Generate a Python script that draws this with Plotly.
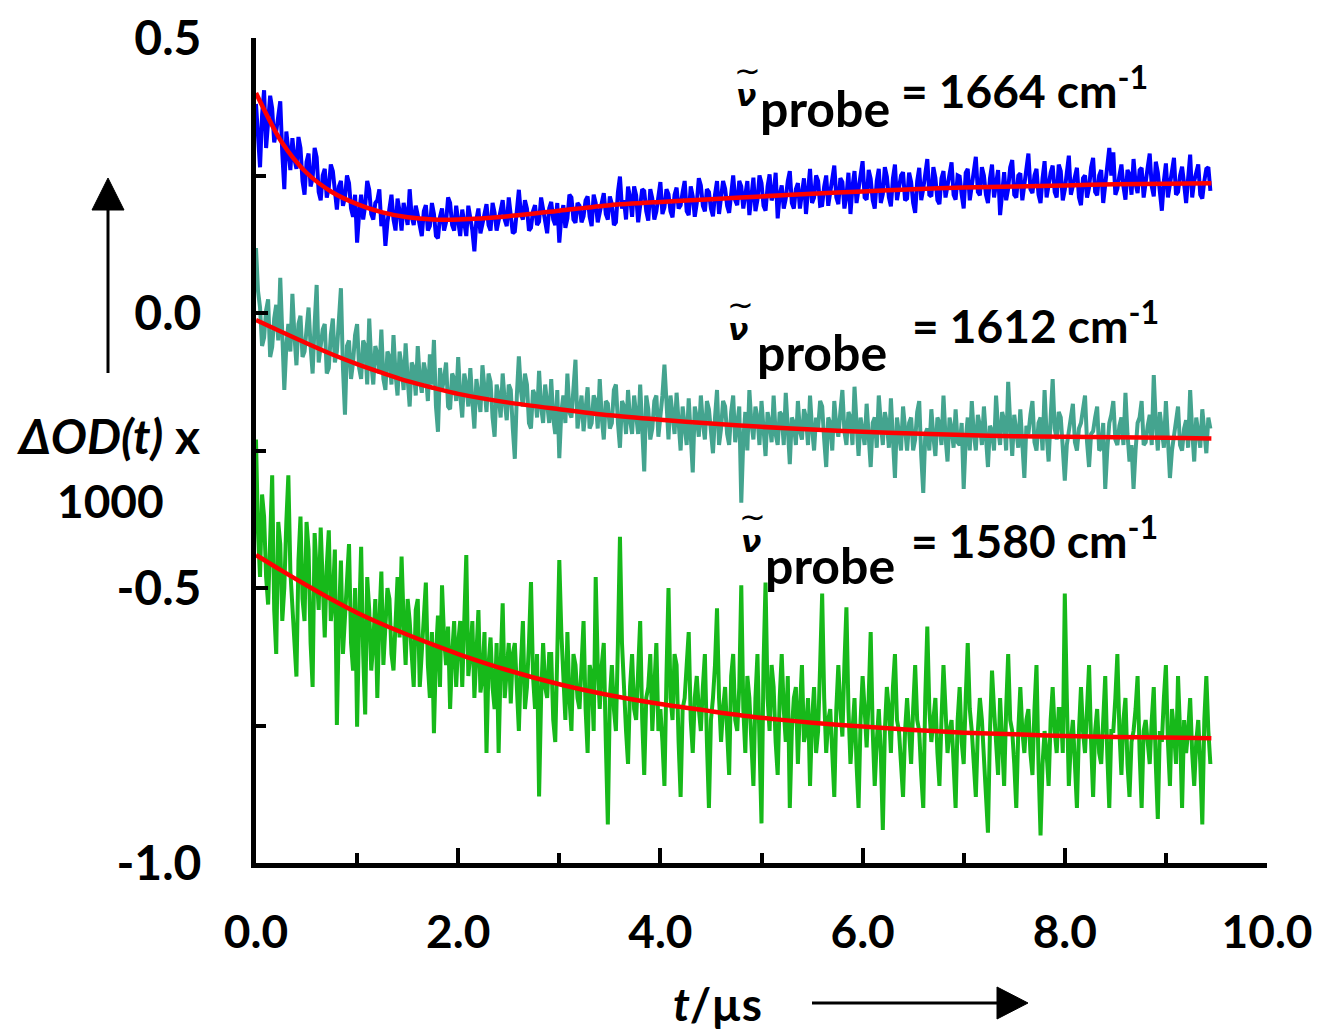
import numpy as np
import plotly.graph_objects as go

# ---------------- data (ΔOD x 1000, values in thousandths) ----------------
T_STEP = 0.04  # µs between samples of each list; the "_b" lists sit half a step later

blue_a = [380,265,405,350,372,330,385,225,300,318,262,300,215,290,245,283,205,262,228,258,
188,240,210,236,175,128,215,195,224,170,205,158,122,196,170,208,150,182,225,160,
178,140,196,158,180,136,190,165,200,150,172,188,140,175,112,190,162,198,150,182,
168,205,158,180,148,224,170,190,155,196,166,188,145,202,160,128,196,172,210,164,
195,176,212,158,200,182,218,170,198,165,248,205,230,175,214,190,222,168,208,185,
238,192,216,174,228,196,240,178,212,200,232,185,220,176,240,204,226,182,250,196,
230,210,178,246,206,236,186,252,215,172,232,208,258,190,236,214,180,262,210,240,
196,250,222,268,198,238,212,180,258,226,276,206,244,190,262,216,248,194,270,228,
256,208,238,182,264,226,280,212,246,198,258,230,274,206,248,190,262,232,284,214,
250,200,270,236,178,256,226,278,210,254,232,290,218,262,200,276,236,268,210,258,
224,286,232,264,196,250,228,282,214,260,236,300,292,226,270,206,252,280,218,264,
232,290,212,256,186,272,238,282,220,266,200,288,240,270,208,262,222]
blue_b = [330,360,300,395,310,360,290,330,260,280,320,240,275,230,300,220,250,210,270,215,
230,195,250,190,215,180,170,240,180,200,225,180,165,215,150,185,200,160,175,195,
155,185,150,200,140,175,150,210,160,195,140,160,195,150,170,145,185,160,200,150,
195,170,210,145,190,180,205,150,185,160,210,160,190,170,200,175,155,215,170,200,
165,205,175,215,165,205,180,212,160,220,190,170,210,230,165,225,185,225,170,220,
180,225,185,215,190,220,185,230,175,245,195,225,190,215,180,240,195,225,205,240,
190,240,215,185,250,195,230,205,255,215,190,240,200,225,190,245,225,200,250,195,
230,195,250,210,245,190,255,230,200,250,210,260,205,240,200,265,210,245,205,250,
205,255,200,240,205,255,215,265,205,245,210,260,215,250,215,255,205,260,220,265,
215,245,210,260,225,205,265,215,250,205,260,225,250,215,245,210,255,220,270,205,
260,215,255,210,245,210,265,220,250,200,260,250,215,250,230,260,215,235,260,210,
265,230,275,220,240,210,260,215,250,235,245,210,255,215,240,265]

teal_a = [118,10,-45,25,-62,15,64,-140,-20,35,-95,-5,-70,10,-110,51,-60,-20,-100,-10,
-70,45,-185,-50,-90,-20,-120,-60,-10,-130,-75,-30,-140,-80,-40,-150,-95,-55,-170,-100,
-60,-145,-110,-75,-49,-216,-140,-90,-175,-120,-80,-190,-130,-100,-210,-150,-95,-180,-125,-225,
-150,-110,-195,-140,-265,-79,-170,-130,-210,-150,-105,-200,-160,-120,-220,-264,-150,-110,-190,-85,
-175,-215,-135,-200,-160,-120,-230,-165,-200,-130,-245,-170,-140,-220,-180,-130,-288,-175,-210,-150,
-190,-94,-230,-180,-145,-250,-200,-155,-290,-190,-150,-230,-175,-255,-140,-210,-170,-240,-150,-200,
-345,-180,-140,-230,-190,-160,-260,-200,-150,-240,-185,-145,-275,-200,-160,-230,-190,-150,-250,-210,
-170,-280,-200,-160,-225,-140,-240,-190,-134,-260,-210,-165,-280,-190,-150,-240,-200,-155,-300,-215,
-170,-250,-190,-230,-160,-327,-210,-175,-260,-200,-150,-270,-210,-175,-240,-320,-190,-160,-250,-205,
-170,-280,-215,-150,-240,-195,-125,-260,-210,-175,-300,-220,-160,-250,-190,-140,-270,-120,-230,-190,
-305,-210,-165,-250,-200,-150,-280,-215,-170,-245,-320,-200,-160,-240,-190,-145,-270,-320,-200,-160,
-235,-185,-113,-250,-210,-160,-300,-220,-170,-250,-195,-140,-270,-215,-175,-255,-210]
teal_b = [40,-60,5,-80,-10,-50,-40,-60,-70,-40,-20,-80,-30,-60,-20,-90,-30,-110,-40,-90,
-20,-100,-60,-120,-40,-100,-50,-130,-90,-60,-110,-120,-70,-130,-110,-70,-140,-120,-90,-150,
-120,-90,-160,-130,-170,-100,-120,-170,-110,-160,-150,-110,-170,-160,-120,-180,-140,-110,-190,-130,
-190,-160,-130,-210,-150,-140,-110,-200,-140,-190,-170,-130,-200,-190,-140,-180,-200,-180,-130,-210,
-150,-170,-210,-150,-210,-190,-160,-210,-140,-200,-160,-220,-195,-150,-220,-210,-150,-230,-160,-225,
-150,-170,-150,-220,-200,-170,-240,-210,-170,-225,-200,-160,-215,-190,-240,-160,-220,-180,-235,-170,
-230,-250,-200,-170,-240,-220,-180,-235,-220,-180,-240,-210,-190,-240,-215,-175,-240,-210,-190,-160,
-230,-190,-250,-205,-180,-215,-180,-240,-200,-190,-240,-230,-200,-245,-200,-180,-245,-230,-190,-250,
-210,-200,-250,-180,-260,-220,-250,-225,-190,-240,-225,-190,-245,-235,-200,-230,-250,-220,-185,-240,
-225,-205,-250,-210,-180,-250,-200,-185,-245,-230,-205,-185,-235,-200,-250,-220,-190,-210,-180,-245,
-240,-190,-235,-210,-170,-235,-220,-190,-250,-200,-250,-185,-230,-205,-240,-220,-240,-250,-190,-240,
-205,-240,-200,-180,-245,-230,-250,-190,-240,-210,-245,-215,-190,-245,-220,-190]

green_a = [-230,-480,-370,-530,-295,-620,-420,-500,-295,-540,-661,-370,-560,-430,-680,-470,-390,-590,-395,-520,
-749,-450,-560,-420,-650,-752,-425,-730,-540,-600,-700,-470,-580,-520,-650,-480,-443,-640,-560,-680,
-520,-610,-490,-700,-764,-550,-495,-640,-720,-560,-600,-680,-440,-620,-700,-540,-660,-800,-590,-720,
-800,-528,-650,-710,-600,-760,-560,-680,-489,-720,-879,-600,-700,-620,-780,-449,-680,-580,-760,-640,
-720,-560,-800,-660,-480,-720,-600,-930,-640,-760,-407,-700,-820,-620,-740,-560,-840,-680,-760,-600,
-720,-860,-500,-740,-640,-880,-700,-580,-800,-660,-760,-620,-900,-700,-537,-780,-680,-840,-620,-760,
-495,-800,-700,-860,-620,-928,-490,-760,-680,-840,-620,-780,-900,-700,-820,-640,-760,-860,-680,-760,
-510,-800,-720,-880,-640,-770,-535,-820,-700,-900,-660,-790,-580,-860,-720,-940,-680,-800,-620,-760,
-880,-700,-820,-640,-760,-900,-570,-780,-700,-860,-640,-800,-740,-900,-680,-820,-600,-760,-880,-700,
-800,-945,-650,-780,-700,-860,-620,-760,-900,-680,-800,-720,-840,-640,-950,-760,-860,-680,-800,-720,
-510,-860,-740,-900,-680,-800,-640,-880,-720,-820,-660,-900,-760,-620,-840,-700,-880,-760,-660,-900,
-740,-820,-680,-920,-780,-640,-860,-760,-660,-900,-800,-700,-860,-740,-930,-660,-820]
green_b = [-400,-330,-480,-420,-540,-380,-560,-380,-470,-600,-450,-520,-380,-600,-400,-540,-520,-460,-560,-430,
-560,-620,-480,-600,-500,-560,-620,-480,-650,-520,-560,-640,-500,-620,-560,-590,-560,-520,-620,-540,
-680,-540,-640,-580,-620,-680,-590,-570,-620,-680,-560,-560,-660,-560,-620,-690,-580,-640,-680,-600,
-640,-700,-600,-620,-700,-640,-720,-600,-660,-620,-700,-680,-620,-740,-620,-580,-740,-700,-620,-700,
-640,-720,-640,-760,-640,-640,-780,-700,-720,-600,-600,-760,-680,-720,-640,-740,-700,-620,-680,-760,
-780,-660,-700,-620,-780,-720,-640,-740,-700,-720,-680,-780,-740,-640,-700,-720,-760,-660,-740,-680,
-720,-660,-780,-700,-780,-640,-700,-640,-780,-700,-720,-660,-760,-680,-720,-780,-700,-740,-800,-640,
-700,-740,-800,-720,-720,-640,-720,-760,-820,-740,-720,-700,-760,-780,-800,-760,-720,-680,-740,-820,
-760,-760,-720,-740,-840,-700,-720,-740,-800,-740,-720,-760,-820,-740,-780,-700,-720,-820,-760,-740,
-860,-760,-720,-840,-780,-720,-740,-820,-760,-760,-740,-800,-720,-820,-820,-800,-740,-760,-720,-800,
-700,-780,-820,-760,-760,-720,-780,-760,-800,-740,-800,-760,-700,-760,-740,-820,-780,-720,-800,-760,
-780,-740,-820,-760,-700,-780,-720,-820,-760,-740,-760,-800,-780,-820,-740,-760]

# fitted curves
fit_t = [0, 0.25, 0.5, 0.75, 1.0, 1.25, 1.5, 1.75, 2.0, 2.5, 3.0, 3.5, 4.0, 4.5,
         5.0, 5.5, 6.0, 6.5, 7.0, 7.5, 8.0, 8.5, 9.0, 9.45]
blue_fit = [0.400, 0.312, 0.255, 0.220, 0.198, 0.183, 0.174, 0.170, 0.170, 0.176, 0.186, 0.196,
            0.202, 0.207, 0.212, 0.217, 0.221, 0.225, 0.228, 0.230, 0.232, 0.234, 0.235, 0.236]
teal_fit = [-0.013, -0.034, -0.055, -0.075, -0.093, -0.109, -0.124, -0.136, -0.147, -0.163, -0.175,
            -0.186, -0.194, -0.201, -0.207, -0.212, -0.216, -0.219, -0.222, -0.224, -0.225, -0.226,
            -0.227, -0.228]
green_fit = [-0.440, -0.468, -0.495, -0.521, -0.545, -0.566, -0.585, -0.603, -0.620, -0.650, -0.675,
             -0.695, -0.711, -0.724, -0.736, -0.745, -0.752, -0.758, -0.763, -0.766, -0.769, -0.771,
             -0.772, -0.773]

labels = ["1664", "1612", "1580"]
x_ticks = [0, 2, 4, 6, 8, 10]
x_tick_text = ["0.0", "2.0", "4.0", "6.0", "8.0", "10.0"]
y_ticks = [0.5, 0.0, -0.5, -1.0]
y_tick_text = ["0.5", "0.0", "-0.5", "-1.0"]

# ---------------- figure ----------------
OFF = 0                       # body margin removed via post_script
PL, PR, PT, PB = 256, 1267, 38, 863   # plot area in page pixels
W, H = 1317 - OFF, 1030 - OFF
ML, MT = PL - OFF, PT - OFF
MR = W - (PR - OFF)
MB = H - (PB - OFF)


def px(xp):
    return (xp - PL) / (PR - PL)


def py(yp):
    return (PB - yp) / (PB - PT)


def merged(a, b):
    pts = [(round(i * T_STEP, 2), v) for i, v in enumerate(a)]
    pts += [(round(i * T_STEP + T_STEP / 2, 2), v) for i, v in enumerate(b)]
    pts.sort()
    return [p[0] for p in pts], np.array([p[1] for p in pts]) / 1000.0


CAL = "Lato"
SYM = "DejaVu Sans"

fig = go.Figure()
series = [(blue_a, blue_b, "#0000FF"), (teal_a, teal_b, "#44A48F"), (green_a, green_b, "#17B91A")]
for a, b, col in series:
    t, y = merged(a, b)
    fig.add_trace(go.Scatter(x=t, y=y, mode="lines",
                             line=dict(color=col, width=4), hoverinfo="skip", showlegend=False))
for fit in (blue_fit, teal_fit, green_fit):
    fig.add_trace(go.Scatter(x=fit_t, y=fit, mode="lines",
                             line=dict(color="#FF0000", width=4.5, shape="spline", smoothing=0.8),
                             hoverinfo="skip", showlegend=False))

fig.update_layout(
    width=W, height=H,
    margin=dict(l=ML, r=MR, t=MT, b=MB, autoexpand=False),
    paper_bgcolor="white", plot_bgcolor="white",
    showlegend=False,
)
fig.update_xaxes(
    range=[0, 10], showgrid=False, zeroline=False, automargin=False,
    showline=True, linecolor="black", linewidth=5,
    tickmode="array", tickvals=x_ticks, ticktext=x_tick_text,
    ticks="inside", ticklen=15, tickwidth=3.5, tickcolor="black",
    minor=dict(dtick=1, ticks="inside", ticklen=10, tickwidth=3.5, tickcolor="black"),
    tickfont=dict(family=CAL, size=46, color="black", weight="bold"),
    ticklabelstandoff=25, ticklabeloverflow="allow",
)
fig.update_yaxes(
    range=[-1.0, 0.5], showgrid=False, zeroline=False, automargin=False,
    showline=True, linecolor="black", linewidth=5,
    tickmode="array", tickvals=y_ticks, ticktext=y_tick_text,
    ticks="inside", ticklen=12, tickwidth=3.5, tickcolor="black",
    minor=dict(dtick=0.25, ticks="inside", ticklen=10, tickwidth=3.5, tickcolor="black"),
    tickfont=dict(family=CAL, size=48, color="black", weight="bold"),
    ticklabelstandoff=40, ticklabeloverflow="allow",
)

# probe labels: (tilde x,y ; nu x,y ; probe left x, y ; '=' left x, y) in page pixels
lab_pos = [
    (747, 71, 746, 95, 758, 108, 899, 87),
    (740, 305, 738, 330, 755, 352, 910, 322),
    (752, 517, 751, 541, 763, 565, 909, 537),
]
ann = []
for lab, (tx, ty, nx, ny, prx, pry, ex, ey) in zip(labels, lab_pos):
    ann.append(dict(x=px(tx), y=py(ty), xref="paper", yref="paper", text="~",
                    showarrow=False, font=dict(family=SYM, size=32, color="black"),
                    xanchor="center", yanchor="middle"))
    ann.append(dict(x=px(nx), y=py(ny), xref="paper", yref="paper", text="<b><i>ν</i></b>",
                    showarrow=False, font=dict(family=SYM, size=30, color="black"),
                    xanchor="center", yanchor="middle"))
    ann.append(dict(x=px(prx), y=py(pry), xref="paper", yref="paper", text="<b>probe</b>",
                    showarrow=False, font=dict(family=CAL, size=50, color="black"),
                    xanchor="left", yanchor="middle"))
    ann.append(dict(x=px(ex), y=py(ey), xref="paper", yref="paper",
                    text=f"<b>= {lab} cm<sup>-1</sup></b>",
                    showarrow=False, font=dict(family=CAL, size=46, color="black"),
                    xanchor="left", yanchor="middle"))

# axis titles
ann.append(dict(x=px(108), y=py(435), xref="paper", yref="paper", text="<b><i>ΔOD(t)</i> x</b>",
                showarrow=False, font=dict(family=CAL, size=48, color="black"),
                xanchor="center", yanchor="middle"))
ann.append(dict(x=px(110), y=py(500), xref="paper", yref="paper", text="<b>1000</b>",
                showarrow=False, font=dict(family=CAL, size=46, color="black"),
                xanchor="center", yanchor="middle"))
ann.append(dict(x=px(717), y=py(1003), xref="paper", yref="paper", text="<b><i>t</i>/µs</b>",
                showarrow=False, font=dict(family=CAL, size=46, color="black"),
                xanchor="center", yanchor="middle"))
fig.update_layout(annotations=ann)

# arrows
shapes = [
    dict(type="line", xref="paper", yref="paper", x0=px(108), x1=px(108), y0=py(373), y1=py(205),
         line=dict(color="black", width=3)),
    dict(type="path", xref="paper", yref="paper",
         path=f"M {px(92)} {py(210)} L {px(124)} {py(210)} L {px(108)} {py(178)} Z",
         fillcolor="black", line=dict(color="black", width=1)),
    dict(type="line", xref="paper", yref="paper", x0=px(812), x1=px(1000), y0=py(1003), y1=py(1003),
         line=dict(color="black", width=3)),
    dict(type="path", xref="paper", yref="paper",
         path=f"M {px(997)} {py(987)} L {px(997)} {py(1019)} L {px(1028)} {py(1003)} Z",
         fillcolor="black", line=dict(color="black", width=1)),
]
fig.update_layout(shapes=shapes)

fig.write_html(
    "out.html",
    config={"displayModeBar": False},
    post_script="document.body.style.margin='0';document.body.style.overflow='hidden';",
)
